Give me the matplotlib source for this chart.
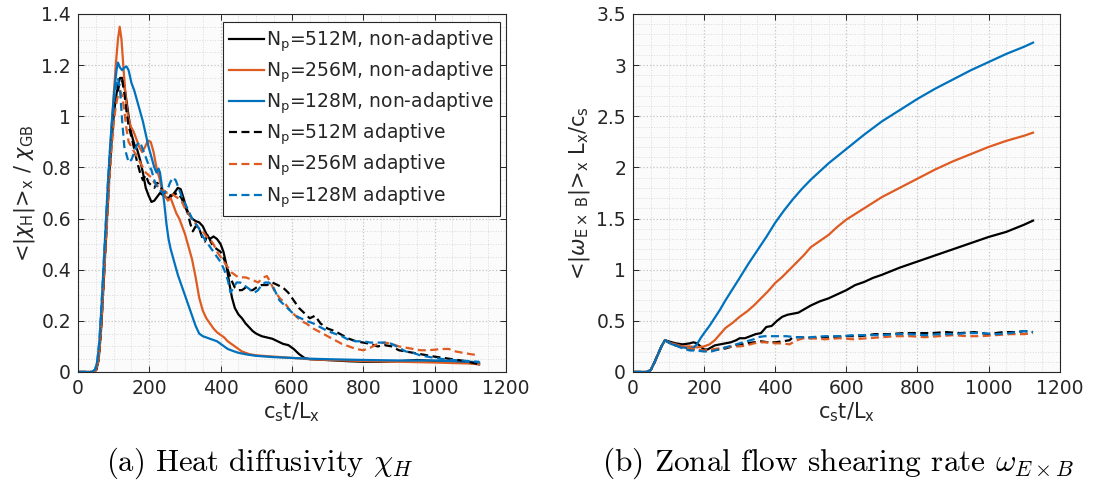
import matplotlib
matplotlib.use("Agg")
import matplotlib.pyplot as plt
from matplotlib.ticker import MultipleLocator, FuncFormatter

# ---------------- data: panel (a) heat diffusivity ----------------
t_a_k512 = [0, 45, 52, 58, 64, 70, 76, 82, 88, 94, 100, 106, 112, 118, 124, 130, 136, 142, 150, 158, 166, 174,
            182, 190, 198, 206, 214, 222, 230, 240, 250, 260, 270, 280, 288, 296, 304, 312, 320, 330, 340, 350,
            360, 370, 380, 390, 400, 408, 416, 424, 432, 440, 450, 460, 470, 480, 490, 500, 515, 530, 545, 560,
            575, 590, 605, 620, 635, 650, 680, 720, 760, 800, 850, 900, 950, 1000, 1050, 1100, 1125]
v_a_k512 = [0, 0, 0.01, 0.05, 0.15, 0.30, 0.46, 0.62, 0.77, 0.90, 1.00, 1.07, 1.12, 1.15, 1.15, 1.12, 1.06, 1.00,
            0.93, 0.89, 0.87, 0.83, 0.78, 0.72, 0.69, 0.665, 0.67, 0.685, 0.70, 0.69, 0.68, 0.685, 0.70, 0.72,
            0.715, 0.68, 0.64, 0.615, 0.60, 0.59, 0.585, 0.57, 0.54, 0.52, 0.53, 0.52, 0.50, 0.47, 0.42, 0.35,
            0.29, 0.25, 0.225, 0.21, 0.19, 0.175, 0.16, 0.15, 0.14, 0.135, 0.13, 0.12, 0.11, 0.105, 0.09, 0.07,
            0.055, 0.05, 0.048, 0.045, 0.042, 0.04, 0.04, 0.042, 0.047, 0.043, 0.04, 0.035, 0.03]

t_a_o256 = [0, 45, 52, 58, 64, 70, 76, 82, 88, 94, 100, 106, 112, 117, 122, 128, 134, 140, 148, 156, 164, 172,
            180, 188, 196, 204, 212, 220, 228, 236, 244, 252, 260, 268, 276, 284, 292, 300, 310, 320, 330, 340,
            350, 360, 370, 380, 390, 400, 410, 420, 430, 440, 450, 460, 470, 480, 500, 550, 600, 650, 700, 800,
            900, 1000, 1100, 1125]
v_a_o256 = [0, 0, 0.015, 0.06, 0.17, 0.32, 0.48, 0.64, 0.80, 0.95, 1.08, 1.20, 1.30, 1.35, 1.30, 1.18, 1.07, 1.00,
            0.96, 0.94, 0.91, 0.88, 0.86, 0.88, 0.905, 0.90, 0.86, 0.80, 0.76, 0.71, 0.69, 0.67, 0.68, 0.65, 0.62,
            0.60, 0.57, 0.54, 0.49, 0.44, 0.37, 0.29, 0.24, 0.21, 0.19, 0.17, 0.155, 0.145, 0.135, 0.12, 0.11,
            0.10, 0.09, 0.08, 0.075, 0.07, 0.065, 0.06, 0.055, 0.05, 0.047, 0.043, 0.04, 0.037, 0.033, 0.03]

t_a_b128 = [0, 40, 48, 54, 60, 66, 72, 78, 84, 90, 96, 102, 108, 112, 118, 124, 130, 136, 142, 150, 158, 166,
            174, 182, 190, 198, 206, 214, 220, 226, 230, 236, 242, 248, 254, 260, 266, 272, 280, 290, 300, 310,
            320, 330, 340, 350, 360, 370, 380, 390, 400, 410, 420, 435, 450, 475, 500, 550, 600, 650, 700, 800,
            900, 1000, 1100, 1125]
v_a_b128 = [0, 0, 0.01, 0.04, 0.12, 0.26, 0.42, 0.58, 0.74, 0.88, 1.00, 1.10, 1.18, 1.21, 1.19, 1.18, 1.19, 1.195,
            1.18, 1.13, 1.10, 1.06, 1.02, 0.98, 0.93, 0.88, 0.84, 0.80, 0.78, 0.795, 0.78, 0.72, 0.66, 0.58, 0.52,
            0.48, 0.45, 0.42, 0.38, 0.34, 0.30, 0.26, 0.22, 0.18, 0.15, 0.14, 0.135, 0.13, 0.125, 0.12, 0.11,
            0.10, 0.09, 0.082, 0.075, 0.068, 0.063, 0.058, 0.055, 0.052, 0.05, 0.047, 0.045, 0.045, 0.04, 0.038]

t_a_k512a = [0, 45, 52, 58, 64, 70, 76, 82, 88, 94, 100, 106, 112, 118, 124, 130, 136, 142, 150, 158, 166, 174,
             182, 190, 198, 206, 214, 222, 230, 240, 250, 260, 270, 280, 290, 300, 308, 315, 322, 330, 340, 350,
             356, 364, 372, 380, 390, 400, 410, 420, 430, 440, 450, 460, 470, 480, 490, 500, 515, 530, 545, 560,
             575, 590, 605, 620, 635, 650, 665, 680, 700, 720, 740, 760, 780, 800, 820, 840, 860, 880, 900, 920,
             940, 960, 980, 1000, 1025, 1050, 1075, 1100, 1125]
v_a_k512a = [0, 0, 0.01, 0.05, 0.15, 0.30, 0.46, 0.62, 0.77, 0.90, 1.00, 1.06, 1.10, 1.14, 1.14, 1.09, 1.02, 0.96,
             0.92, 0.87, 0.82, 0.78, 0.75, 0.77, 0.74, 0.73, 0.72, 0.74, 0.73, 0.70, 0.70, 0.69, 0.695, 0.70, 0.68,
             0.65, 0.62, 0.58, 0.55, 0.57, 0.56, 0.52, 0.51, 0.54, 0.51, 0.49, 0.48, 0.47, 0.44, 0.40, 0.36, 0.33,
             0.32, 0.32, 0.33, 0.32, 0.32, 0.33, 0.34, 0.34, 0.35, 0.34, 0.33, 0.31, 0.28, 0.25, 0.23, 0.21, 0.22,
             0.19, 0.17, 0.16, 0.145, 0.13, 0.12, 0.115, 0.11, 0.10, 0.105, 0.10, 0.085, 0.08, 0.075, 0.07, 0.065,
             0.06, 0.055, 0.05, 0.045, 0.038, 0.03]

t_a_o256a = [0, 45, 52, 58, 64, 70, 76, 82, 88, 94, 100, 106, 112, 118, 124, 130, 136, 142, 150, 158, 166, 174,
             182, 190, 198, 206, 214, 222, 230, 240, 250, 260, 270, 280, 290, 300, 310, 320, 330, 340, 350, 360,
             370, 380, 390, 400, 410, 420, 430, 440, 450, 470, 490, 505, 520, 530, 540, 550, 565, 580, 595, 610,
             625, 640, 660, 680, 700, 720, 740, 760, 780, 800, 820, 840, 860, 880, 900, 920, 940, 960, 980, 1000,
             1020, 1040, 1060, 1080, 1100, 1125]
v_a_o256a = [0, 0, 0.01, 0.05, 0.15, 0.30, 0.45, 0.60, 0.75, 0.87, 0.97, 1.04, 1.08, 1.10, 1.08, 1.02, 0.95, 0.90,
             0.88, 0.86, 0.84, 0.82, 0.80, 0.78, 0.77, 0.76, 0.74, 0.73, 0.71, 0.71, 0.70, 0.70, 0.69, 0.68, 0.67,
             0.64, 0.62, 0.60, 0.58, 0.56, 0.55, 0.53, 0.52, 0.50, 0.47, 0.45, 0.43, 0.41, 0.39, 0.38, 0.37, 0.37,
             0.36, 0.35, 0.37, 0.375, 0.35, 0.32, 0.29, 0.27, 0.24, 0.22, 0.20, 0.19, 0.17, 0.155, 0.14, 0.125,
             0.11, 0.10, 0.09, 0.085, 0.095, 0.11, 0.115, 0.11, 0.10, 0.095, 0.09, 0.085, 0.085, 0.087, 0.09, 0.09,
             0.08, 0.075, 0.07, 0.065]

t_a_b128a = [0, 40, 48, 54, 60, 66, 72, 78, 84, 90, 96, 102, 108, 112, 118, 124, 130, 136, 142, 150, 158, 166,
             174, 182, 190, 198, 206, 214, 222, 230, 240, 250, 258, 266, 274, 282, 290, 300, 310, 320, 330, 340,
             350, 360, 370, 380, 390, 400, 410, 420, 428, 436, 445, 455, 465, 475, 485, 495, 505, 515, 525, 535,
             545, 555, 565, 580, 595, 610, 625, 640, 660, 680, 700, 720, 740, 760, 780, 800, 820, 840, 860, 880,
             900, 920, 940, 960, 980, 1000, 1025, 1050, 1075, 1100, 1125]
v_a_b128a = [0, 0, 0.01, 0.04, 0.12, 0.26, 0.42, 0.58, 0.74, 0.87, 0.98, 1.07, 1.13, 1.15, 1.10, 0.98, 0.88, 0.85,
             0.82, 0.83, 0.86, 0.89, 0.90, 0.87, 0.84, 0.81, 0.79, 0.75, 0.72, 0.71, 0.70, 0.71, 0.74, 0.76, 0.75,
             0.72, 0.69, 0.66, 0.63, 0.60, 0.58, 0.56, 0.53, 0.51, 0.49, 0.47, 0.45, 0.43, 0.40, 0.36, 0.31, 0.33,
             0.35, 0.35, 0.34, 0.33, 0.32, 0.31, 0.32, 0.34, 0.35, 0.35, 0.34, 0.31, 0.28, 0.26, 0.24, 0.22, 0.21,
             0.20, 0.19, 0.175, 0.16, 0.15, 0.14, 0.125, 0.12, 0.12, 0.115, 0.115, 0.115, 0.11, 0.095, 0.08, 0.075,
             0.065, 0.06, 0.055, 0.05, 0.047, 0.045, 0.042, 0.04]

# ---------------- data: panel (b) zonal flow shearing rate ----------------
t_b_rise = [0, 40, 50, 60, 70, 80, 90]
v_b_rise = [0, 0, 0.02, 0.09, 0.17, 0.25, 0.31]

t_b_k512 = t_b_rise + [100, 120, 140, 160, 170, 180, 190, 200, 210, 220, 230, 245, 260, 275, 290, 300, 315, 330,
                       345, 360, 375, 390, 405, 420, 435, 450, 465, 480, 500, 525, 550, 575, 600, 625, 650, 675,
                       700, 750, 800, 850, 900, 950, 1000, 1050, 1100, 1125]
v_b_k512 = v_b_rise + [0.30, 0.28, 0.27, 0.28, 0.29, 0.28, 0.25, 0.22, 0.22, 0.24, 0.26, 0.27, 0.28, 0.29, 0.31,
                       0.33, 0.33, 0.35, 0.37, 0.38, 0.44, 0.45, 0.50, 0.54, 0.56, 0.57, 0.58, 0.61, 0.65, 0.69,
                       0.72, 0.76, 0.80, 0.85, 0.88, 0.92, 0.95, 1.02, 1.08, 1.14, 1.20, 1.26, 1.32, 1.37, 1.44,
                       1.48]

t_b_o256 = t_b_rise + [100, 120, 140, 160, 180, 200, 215, 230, 245, 260, 280, 300, 320, 340, 360, 380, 400, 420,
                       440, 460, 480, 500, 525, 550, 575, 600, 650, 700, 750, 800, 850, 900, 950, 1000, 1050, 1100,
                       1125]
v_b_o256 = v_b_rise + [0.29, 0.27, 0.25, 0.25, 0.24, 0.25, 0.27, 0.31, 0.37, 0.43, 0.48, 0.54, 0.59, 0.65, 0.72,
                       0.79, 0.87, 0.93, 1.00, 1.07, 1.14, 1.22, 1.28, 1.34, 1.42, 1.49, 1.60, 1.71, 1.80, 1.89,
                       1.98, 2.06, 2.13, 2.20, 2.26, 2.31, 2.34]

t_b_b128 = t_b_rise + [100, 110, 120, 130, 140, 150, 160, 170, 180, 190, 200, 215, 230, 245, 260, 280, 300, 325,
                       350, 375, 400, 425, 450, 475, 500, 525, 550, 575, 600, 650, 700, 750, 800, 850, 900, 950,
                       1000, 1050, 1100, 1125]
v_b_b128 = v_b_rise + [0.29, 0.27, 0.26, 0.25, 0.24, 0.235, 0.23, 0.24, 0.27, 0.33, 0.38, 0.45, 0.53, 0.61, 0.70,
                       0.81, 0.92, 1.06, 1.19, 1.32, 1.46, 1.58, 1.69, 1.79, 1.88, 1.96, 2.04, 2.11, 2.18, 2.32,
                       2.45, 2.56, 2.67, 2.77, 2.86, 2.95, 3.03, 3.11, 3.18, 3.22]

t_b_k512a = t_b_rise + [100, 110, 120, 130, 140, 150, 160, 170, 180, 190, 200, 220, 240, 260, 280, 300, 320, 340,
                        360, 380, 400, 420, 440, 450, 470, 500, 530, 560, 600, 640, 680, 720, 760, 800, 840, 880,
                        920, 960, 1000, 1040, 1080, 1100, 1125]
v_b_k512a = v_b_rise + [0.29, 0.27, 0.26, 0.25, 0.24, 0.23, 0.22, 0.22, 0.21, 0.21, 0.21, 0.21, 0.22, 0.23, 0.25,
                        0.27, 0.28, 0.29, 0.30, 0.29, 0.29, 0.30, 0.31, 0.34, 0.34, 0.33, 0.34, 0.34, 0.35, 0.35,
                        0.37, 0.37, 0.38, 0.38, 0.38, 0.39, 0.38, 0.39, 0.37, 0.39, 0.39, 0.40, 0.39]

t_b_o256a = t_b_rise + [100, 120, 140, 160, 180, 200, 220, 240, 260, 280, 300, 320, 340, 360, 380, 400, 420, 440,
                        460, 480, 500, 540, 580, 620, 660, 700, 740, 780, 820, 860, 900, 940, 980, 1020, 1060, 1100,
                        1125]
v_b_o256a = v_b_rise + [0.29, 0.26, 0.24, 0.23, 0.22, 0.21, 0.22, 0.23, 0.24, 0.25, 0.25, 0.26, 0.28, 0.29, 0.29,
                        0.28, 0.28, 0.27, 0.31, 0.33, 0.33, 0.32, 0.33, 0.32, 0.33, 0.34, 0.35, 0.35, 0.34, 0.35,
                        0.36, 0.35, 0.35, 0.36, 0.37, 0.37, 0.38]

t_b_b128a = t_b_rise + [100, 120, 140, 160, 180, 200, 220, 240, 260, 280, 300, 320, 340, 350, 370, 400, 430, 460,
                        500, 540, 580, 620, 660, 700, 740, 780, 820, 860, 900, 940, 980, 1020, 1060, 1100, 1125]
v_b_b128a = v_b_rise + [0.29, 0.26, 0.23, 0.21, 0.21, 0.20, 0.20, 0.22, 0.24, 0.26, 0.28, 0.30, 0.32, 0.34, 0.35,
                        0.35, 0.35, 0.34, 0.34, 0.35, 0.35, 0.36, 0.36, 0.36, 0.37, 0.37, 0.36, 0.37, 0.37, 0.38,
                        0.38, 0.37, 0.38, 0.40, 0.39]

legend_labels = [r"N$_{\rm p}$=512M, non-adaptive", r"N$_{\rm p}$=256M, non-adaptive",
                 r"N$_{\rm p}$=128M, non-adaptive", r"N$_{\rm p}$=512M adaptive",
                 r"N$_{\rm p}$=256M adaptive", r"N$_{\rm p}$=128M adaptive"]

# ---------------- styling ----------------
plt.rcParams['font.family'] = ['DejaVu Sans']
plt.rcParams['mathtext.fontset'] = 'dejavusans'
BLACK = '#000000'
ORANGE = '#DE5B22'
BLUE = '#0072BD'
DASH = (0, (3.6, 2.0))
TXT = '#262626'
LW = 1.6

fig = plt.figure(figsize=(10.97, 4.86), dpi=100)
axA = fig.add_axes([0.0711, 0.2346, 0.390, 0.7366])
axB = fig.add_axes([0.577, 0.2346, 0.389, 0.7366])

fmt = FuncFormatter(lambda v, p: '%g' % round(v, 6))


def style(ax, ymax, ymaj, ymin):
    ax.set_facecolor('#fbfbfb')
    ax.set_xlim(0, 1200)
    ax.set_ylim(0, ymax)
    ax.xaxis.set_major_locator(MultipleLocator(200))
    ax.xaxis.set_minor_locator(MultipleLocator(50))
    ax.yaxis.set_major_locator(MultipleLocator(ymaj))
    ax.yaxis.set_minor_locator(MultipleLocator(ymin))
    ax.xaxis.set_major_formatter(fmt)
    ax.yaxis.set_major_formatter(fmt)
    ax.grid(which='major', color='#c4c4c4', linestyle=':', linewidth=0.9)
    ax.grid(which='minor', color='#dadada', linestyle=':', linewidth=0.7)
    ax.set_axisbelow(True)
    ax.tick_params(which='major', direction='in', top=True, right=True, length=4, width=0.7,
                   labelsize=13.5, colors=TXT, pad=5)
    ax.tick_params(which='minor', length=0, top=True, right=True)
    for s in ax.spines.values():
        s.set_color(TXT)
        s.set_linewidth(0.8)
    ax.set_xlabel(r"c$_{\rm s}$t/L$_{\rm x}$", fontsize=15, color=TXT, labelpad=2)


style(axA, 1.4, 0.2, 0.05)
style(axB, 3.5, 0.5, 0.1)

# panel (a)
axA.plot(t_a_k512, v_a_k512, color=BLACK, lw=LW, label=legend_labels[0])
axA.plot(t_a_o256, v_a_o256, color=ORANGE, lw=LW, label=legend_labels[1])
axA.plot(t_a_b128, v_a_b128, color=BLUE, lw=LW, label=legend_labels[2])
axA.plot(t_a_k512a, v_a_k512a, color=BLACK, lw=LW, ls=DASH, label=legend_labels[3])
axA.plot(t_a_o256a, v_a_o256a, color=ORANGE, lw=LW, ls=DASH, label=legend_labels[4])
axA.plot(t_a_b128a, v_a_b128a, color=BLUE, lw=LW, ls=DASH, label=legend_labels[5])
axA.set_ylabel(r"<|$\chi_{\rm H}$|>$_{\rm x}$ / $\chi_{\rm GB}$", fontsize=15, color=TXT, labelpad=3)

leg = axA.legend(loc='upper right', bbox_to_anchor=(0.986, 0.978), borderaxespad=0, fontsize=13.5,
                 handlelength=1.85, handletextpad=0.1, labelspacing=0.3, borderpad=0.35,
                 fancybox=False, framealpha=1, edgecolor=TXT)
leg.get_frame().set_linewidth(0.8)
for txt in leg.get_texts():
    txt.set_color(TXT)

# panel (b)
axB.plot(t_b_k512, v_b_k512, color=BLACK, lw=LW)
axB.plot(t_b_o256, v_b_o256, color=ORANGE, lw=LW)
axB.plot(t_b_b128, v_b_b128, color=BLUE, lw=LW)
axB.plot(t_b_k512a, v_b_k512a, color=BLACK, lw=LW, ls=DASH)
axB.plot(t_b_o256a, v_b_o256a, color=ORANGE, lw=LW, ls=DASH)
axB.plot(t_b_b128a, v_b_b128a, color=BLUE, lw=LW, ls=DASH)
axB.set_ylabel(r"<|$\omega_{\rm E\times\ B}$|>$_{\rm x}$ L$_{\rm x}$/c$_{\rm s}$", fontsize=15, color=TXT,
               labelpad=3)

# captions
fig.text(260 / 1097, 1 - 463 / 486, r"(a) Heat diffusivity $\chi_H$", ha='center', va='center',
         fontsize=22, family='cmr10', math_fontfamily='cm')
fig.text(838 / 1097, 1 - 463 / 486, r"(b) Zonal flow shearing rate $\omega_{E\times B}$", ha='center',
         va='center', fontsize=22.5, family='cmr10', math_fontfamily='cm')

fig.savefig('out.png', dpi=100, facecolor='white')
